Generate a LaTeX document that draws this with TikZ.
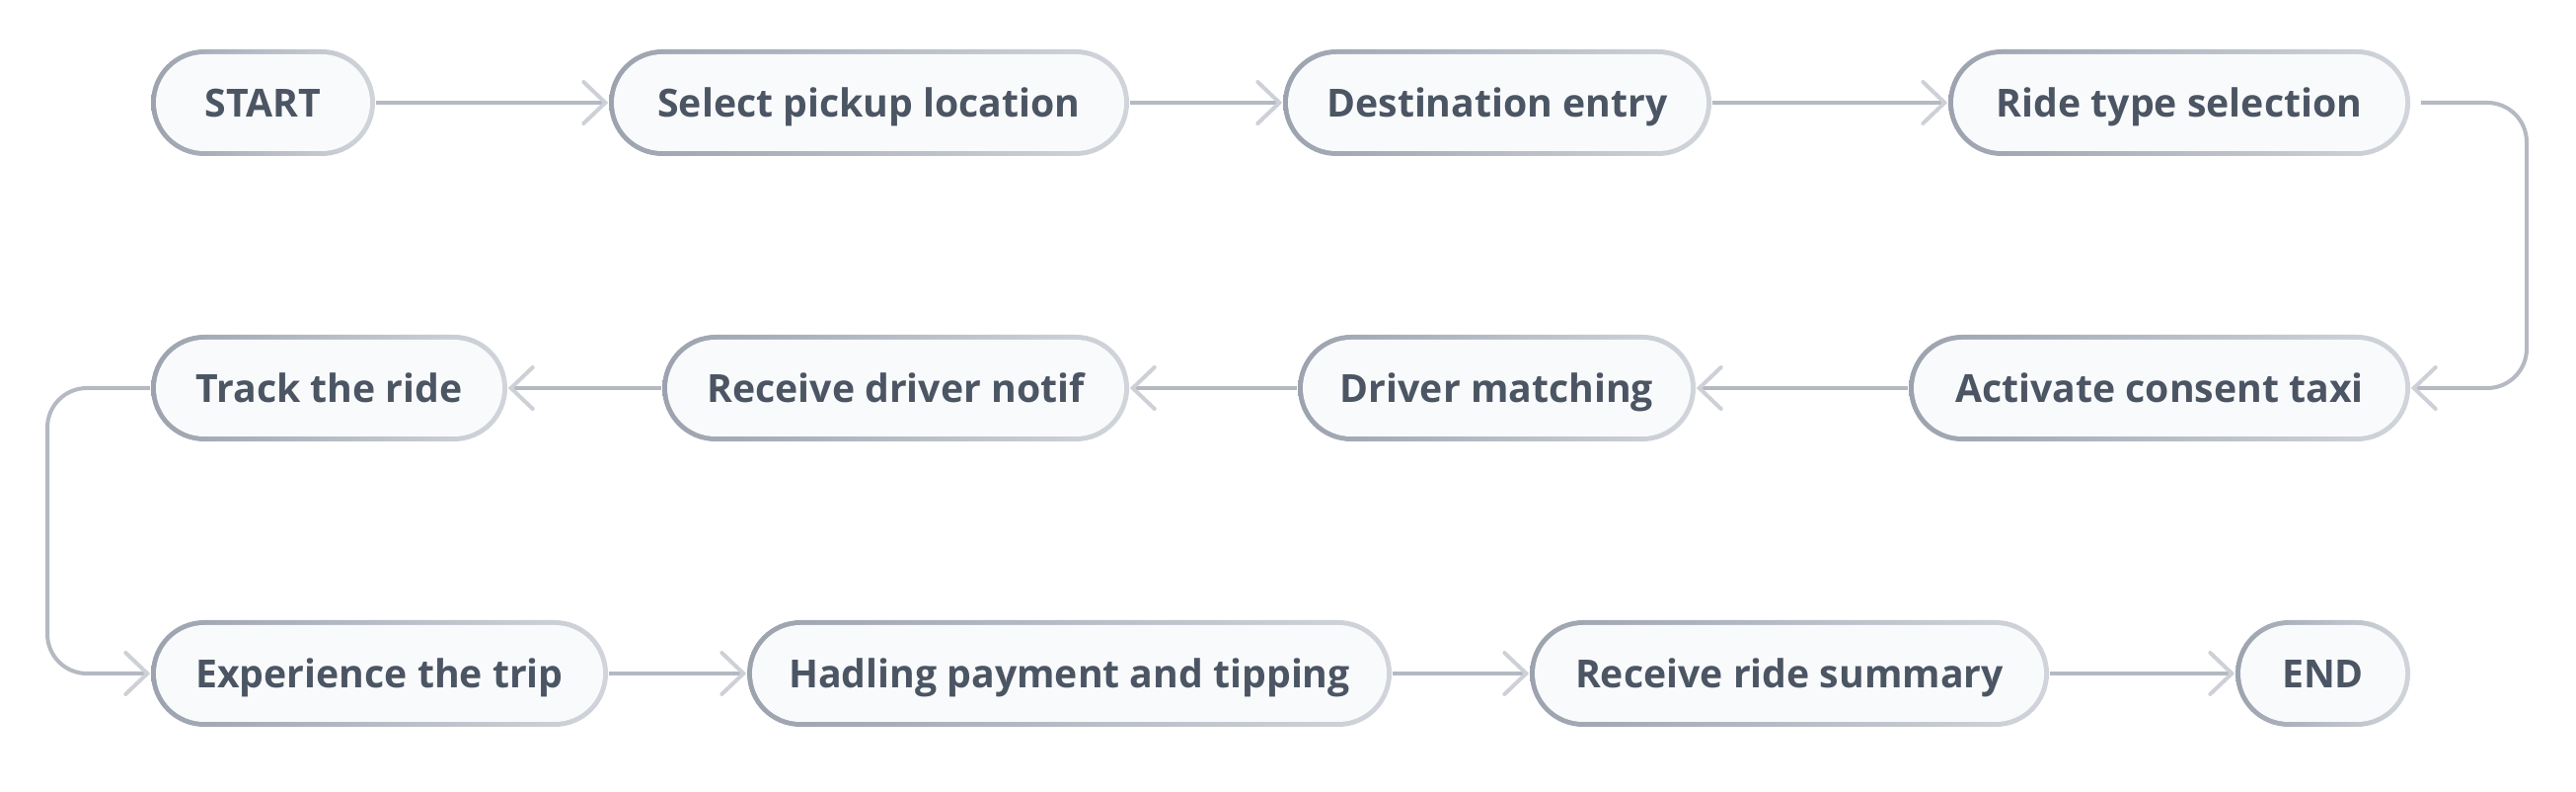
\documentclass[tikz,border=0pt]{standalone}
\usepackage{fontspec}
\setmainfont{Open Sans}
\usetikzlibrary{positioning,arrows.meta}
\definecolor{edgedark}{HTML}{9CA3AF}
\definecolor{edgelight}{HTML}{D1D5DB}
\definecolor{boxfill}{HTML}{F9FAFB}
\definecolor{labeltext}{HTML}{4B5563}
\definecolor{linegray}{HTML}{B4B9C2}
\definecolor{tipgray}{HTML}{CDD1D7}

\tikzset{
  stepbox/.style={rectangle, rounded corners=13.5pt, minimum height=27pt,
    minimum width=#1*0.25pt, inner sep=0pt, text height=9pt, text depth=1.9pt,
    left color=edgedark, right color=edgelight,
    font=\bfseries\fontsize{9.8}{12}\selectfont, text=labeltext,
    path picture={\fill[boxfill, rounded corners=12.25pt]
      ([shift={(1.25pt,1.25pt)}]path picture bounding box.south west) rectangle
      ([shift={(-1.25pt,-1.25pt)}]path picture bounding box.north east);}},
  flow/.style={draw=linegray, line width=1pt,
    -{Straight Barb[length=5.5pt, width=10.5pt, line cap=round, color=tipgray]}},
}

\begin{document}
\begin{tikzpicture}[x=0.25pt, y=0.25pt]
  \useasboundingbox (0,0) rectangle (2610,802);
  \fill[white] (0,0) rectangle (2610,802);

  % Row 1
  \node[stepbox=227] (start) at (266.5,698) {START};
  \node[stepbox=527] (pickup) at (880.5,698) {Select pickup location};
  \node[stepbox=434] (dest) at (1517,698) {Destination entry};
  \node[stepbox=468] (ridetype) at (2208,698) {Ride type selection};

  % Row 2
  \node[stepbox=508] (consent) at (2188,409) {Activate consent taxi};
  \node[stepbox=403] (matching) at (1516.5,409) {Driver matching};
  \node[stepbox=473] (notif) at (907.5,409) {Receive driver notif};
  \node[stepbox=361] (track) at (333.5,409) {Track the ride};

  % Row 3
  \node[stepbox=463] (trip) at (384.5,120) {Experience the trip};
  \node[stepbox=653] (payment) at (1083.5,120) {Hadling payment and tipping};
  \node[stepbox=526] (summary) at (1813,120) {Receive ride summary};
  \node[stepbox=177] (end) at (2353.5,120) {END};

  % Loop corners
  \coordinate (rloop) at (2560,550);
  \coordinate (lloop) at (48,265);

  % Arrows
  \draw[flow] (start) -- (pickup);
  \draw[flow] (pickup) -- (dest);
  \draw[flow] (dest) -- (ridetype);
  \draw[flow, rounded corners=10pt, shorten <=2.5pt] (ridetype.east) -| (rloop) |- (consent.east);
  \draw[flow] (consent) -- (matching);
  \draw[flow] (matching) -- (notif);
  \draw[flow] (notif) -- (track);
  \draw[flow, rounded corners=10pt] (track.west) -| (lloop) |- (trip.west);
  \draw[flow] (trip) -- (payment);
  \draw[flow] (payment) -- (summary);
  \draw[flow] (summary) -- (end);
\end{tikzpicture}
\end{document}
